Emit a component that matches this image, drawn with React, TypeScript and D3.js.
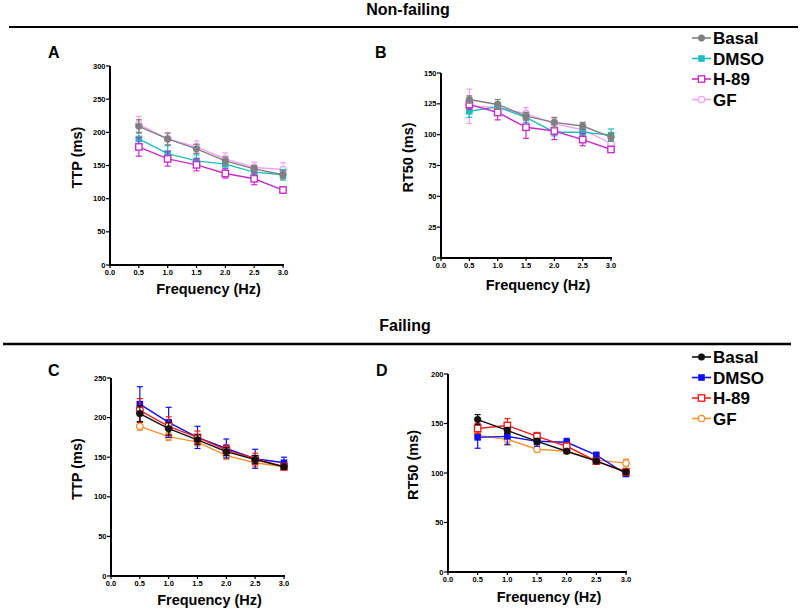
import React from "react";
import * as d3 from "d3";

const freqs = [0.5, 1.0, 1.5, 2.0, 2.5, 3.0];
const xTicks = [0, 0.5, 1.0, 1.5, 2.0, 2.5, 3.0];

// Panel A: TTP non-failing
const aBasal = [209, 190, 175, 157, 145, 136];
const aBasalErr = [10, 9, 7, 6, 5, 6];
const aDMSO = [190, 168, 157, 152, 140, 136];
const aDMSOErr = [10, 12, 9, 6, 5, 8];
const aH89 = [178, 160, 151, 138, 130, 113];
const aH89Err = [14, 11, 9, 7, 9, 5];
const aGF = [212, 190, 178, 160, 147, 144];
const aGFErr = [12, 9, 9, 9, 8, 10];

// Panel B: RT50 non-failing
const bBasal = [128.5, 124.5, 115, 110, 107, 98];
const bBasalErr = [3, 4, 3, 4, 3, 3];
const bDMSO = [119, 122.5, 114, 102, 102, 99.6];
const bDMSOErr = [5, 4, 4, 3, 3, 5];
const bH89 = [124.5, 118, 106, 103, 96, 88];
const bH89Err = [4, 6, 9, 7, 5, 2];
const bGF = [123, 122, 117, 109, 104, 93];
const bGFErr = [14, 4, 5, 4, 3, 3];

// Panel C: TTP failing
const cBasal = [205, 186, 172, 157, 147, 138];
const cBasalErr = [10, 8, 6, 5, 5, 3];
const cDMSO = [217, 194, 175, 161, 148, 143];
const cDMSOErr = [22, 19, 14, 12, 12, 7];
const cH89 = [209, 189, 175, 159, 148, 138];
const cH89Err = [15, 12, 8, 7, 7, 4];
const cGF = [189, 176, 169, 152, 143, 138];
const cGFErr = [5, 5, 5, 5, 5, 3];

// Panel D: RT50 failing
const dBasal = [154, 143, 132, 122, 112, 101];
const dBasalErr = [5, 3, 3, 2, 2, 2];
const dDMSO = [136, 137, 132, 131, 118, 99];
const dDMSOErr = [11, 8, 5, 4, 3, 2];
const dH89 = [145, 148, 137, 127, 112, 101];
const dH89Err = [5, 7, 4, 3, 2, 2];
const dGF = [138, 134, 124, 122, 113, 110];
const dGFErr = [3, 6, 3, 2, 2, 4];

const legendNames = ["Basal", "DMSO", "H-89", "GF"];
const colorsNF = ["#808080", "#1fbcbc", "#c82ec8", "#f7a0f7"];
const colorsF = ["#111111", "#1010f0", "#f02020", "#f79030"];
const shapes = ["dot", "fsquare", "osquare", "ocircle"];

const FONT = "'Liberation Sans', Arial, sans-serif";

type Series = { name: string; color: string; shape: string; values: number[]; errs: number[] };

function Marker({ x, y, shape, color }: { x: number; y: number; shape: string; color: string }) {
  if (shape === "dot") return <circle cx={x} cy={y} r={3.3} fill={color} stroke={color} strokeWidth={0.6} />;
  if (shape === "fsquare") return <rect x={x - 3.3} y={y - 3.3} width={6.6} height={6.6} fill={color} />;
  if (shape === "osquare")
    return <rect x={x - 3.2} y={y - 3.2} width={6.4} height={6.4} fill="white" stroke={color} strokeWidth={1.4} />;
  return <circle cx={x} cy={y} r={3.2} fill="white" stroke={color} strokeWidth={1.3} />;
}

function Panel(props: {
  left: number; right: number; top: number; bottom: number; ymax: number; ystep: number;
  series: Series[]; ylabel: string; ylabelX: number; xlabelY: number; letter: string; letterX: number; letterY: number;
}) {
  const { left, right, top, bottom, ymax, ystep, series } = props;
  const x = d3.scaleLinear().domain([0, 3]).range([left, right]);
  const y = d3.scaleLinear().domain([0, ymax]).range([bottom, top]);
  const yTicks = d3.range(0, ymax + 0.001, ystep);
  const line = d3.line<number>().x((_, i) => x(freqs[i])).y((v) => y(v));
  const cx = (left + right) / 2 + 12;
  const cy = (top + bottom) / 2 - 8;
  return (
    <g>
      <text x={props.letterX} y={props.letterY} fontFamily={FONT} fontWeight="bold" fontSize={16}>
        {props.letter}
      </text>
      {series.map((s) => (
        <g key={s.name}>
          <path d={line(s.values) || ""} fill="none" stroke={s.color} strokeWidth={1.4} />
          {s.values.map((v, i) => (
            <g key={i} stroke={s.color} strokeWidth={1.2}>
              <line x1={x(freqs[i])} x2={x(freqs[i])} y1={y(v - s.errs[i])} y2={y(v + s.errs[i])} />
              <line x1={x(freqs[i]) - 3} x2={x(freqs[i]) + 3} y1={y(v + s.errs[i])} y2={y(v + s.errs[i])} />
              <line x1={x(freqs[i]) - 3} x2={x(freqs[i]) + 3} y1={y(v - s.errs[i])} y2={y(v - s.errs[i])} />
            </g>
          ))}
          {s.values.map((v, i) => (
            <Marker key={"m" + i} x={x(freqs[i])} y={y(v)} shape={s.shape} color={s.color} />
          ))}
        </g>
      ))}
      <line x1={left} x2={left} y1={top} y2={bottom + 1} stroke="black" strokeWidth={2} />
      <line x1={left - 1} x2={right + 1} y1={bottom} y2={bottom} stroke="black" strokeWidth={2} />
      {yTicks.map((t) => (
        <g key={"y" + t}>
          <line x1={left - 4} x2={left} y1={y(t)} y2={y(t)} stroke="black" strokeWidth={1.2} />
          <text x={left - 4.5} y={y(t) + 2.5} textAnchor="end" fontFamily={FONT} fontWeight="bold" fontSize={7.5}>
            {t}
          </text>
        </g>
      ))}
      {xTicks.map((t) => (
        <g key={"x" + t}>
          <line x1={x(t)} x2={x(t)} y1={bottom} y2={bottom + 3} stroke="black" strokeWidth={1.2} />
          <text x={x(t)} y={bottom + 10} textAnchor="middle" fontFamily={FONT} fontWeight="bold" fontSize={7.5}>
            {t.toFixed(1)}
          </text>
        </g>
      ))}
      <text x={cx} y={props.xlabelY} textAnchor="middle" fontFamily={FONT} fontWeight="bold" fontSize={14.5}>
        Frequency (Hz)
      </text>
      <text
        transform={`translate(${props.ylabelX},${cy}) rotate(-90)`}
        textAnchor="middle"
        dy="0.35em"
        fontFamily={FONT}
        fontWeight="bold"
        fontSize={14.5}
      >
        {props.ylabel}
      </text>
    </g>
  );
}

function Legend({ x0, y0, colors }: { x0: number; y0: number; colors: string[] }) {
  return (
    <g>
      {legendNames.map((n, i) => {
        const yy = y0 + i * 20.5;
        return (
          <g key={n}>
            <line x1={x0} x2={x0 + 19} y1={yy} y2={yy} stroke={colors[i]} strokeWidth={1.6} />
            <Marker x={x0 + 9.5} y={yy} shape={shapes[i]} color={colors[i]} />
            <text x={x0 + 21} y={yy + 6} fontFamily={FONT} fontWeight="bold" fontSize={17}>
              {n}
            </text>
          </g>
        );
      })}
    </g>
  );
}

function mk(names: string[], colors: string[], vals: number[][], errs: number[][]): Series[] {
  return names.map((n, i) => ({ name: n, color: colors[i], shape: shapes[i], values: vals[i], errs: errs[i] }));
}

export default function App() {
  const order = [3, 1, 2, 0];
  const sA = mk(legendNames, colorsNF, [aBasal, aDMSO, aH89, aGF], [aBasalErr, aDMSOErr, aH89Err, aGFErr]);
  const sB = mk(legendNames, colorsNF, [bBasal, bDMSO, bH89, bGF], [bBasalErr, bDMSOErr, bH89Err, bGFErr]);
  const sC = mk(legendNames, colorsF, [cBasal, cDMSO, cH89, cGF], [cBasalErr, cDMSOErr, cH89Err, cGFErr]);
  const sD = mk(legendNames, colorsF, [dBasal, dDMSO, dH89, dGF], [dBasalErr, dDMSOErr, dH89Err, dGFErr]);
  const ord = (s: Series[]) => order.map((i) => s[i]);
  return (
    <svg width={800} height={611} style={{ position: "absolute", left: 0, top: 0, background: "white" }}>
      <rect width={800} height={611} fill="white" />
      <text x={408} y={15} textAnchor="middle" fontFamily={FONT} fontWeight="bold" fontSize={16}>
        Non-failing
      </text>
      <line x1={9} x2={798} y1={27} y2={27} stroke="black" strokeWidth={2} />
      <text x={405} y={331} textAnchor="middle" fontFamily={FONT} fontWeight="bold" fontSize={16}>
        Failing
      </text>
      <line x1={3} x2={791} y1={344} y2={344} stroke="black" strokeWidth={2.5} />

      <Panel left={110} right={283} top={66} bottom={265} ymax={300} ystep={50} series={ord(sA)}
        ylabel="TTP (ms)" ylabelX={77} xlabelY={294} letter="A" letterX={48} letterY={58} />
      <Panel left={441} right={611} top={73} bottom={258} ymax={150} ystep={25} series={ord(sB)}
        ylabel="RT50 (ms)" ylabelX={408} xlabelY={290} letter="B" letterX={375} letterY={58} />
      <Panel left={111} right={284} top={378} bottom={576} ymax={250} ystep={50} series={ord(sC)}
        ylabel="TTP (ms)" ylabelX={77} xlabelY={605} letter="C" letterX={48} letterY={376} />
      <Panel left={448} right={626} top={374} bottom={572} ymax={200} ystep={50} series={ord(sD)}
        ylabel="RT50 (ms)" ylabelX={413} xlabelY={602} letter="D" letterX={376} letterY={376} />

      <Legend x0={692} y0={38} colors={colorsNF} />
      <Legend x0={692} y0={357} colors={colorsF} />
    </svg>
  );
}
